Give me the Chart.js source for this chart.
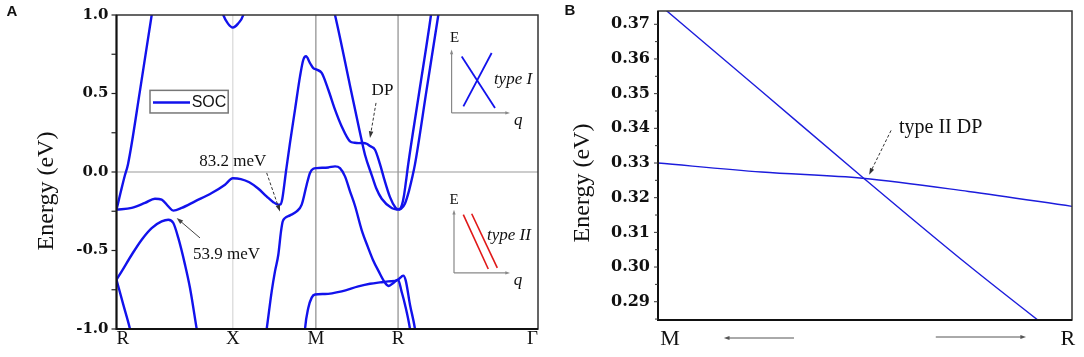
<!DOCTYPE html>
<html>
<head>
<meta charset="utf-8">
<script src="https://cdn.jsdelivr.net/npm/chart.js@4.4.0/dist/chart.umd.min.js"></script>
<style>
  body { margin: 0; background: #fff; }
  #wrap { position: relative; width: 1084px; height: 357px; }
  canvas { position: absolute; top: 0; }
  #bandChart { left: 0; }
  #zoomChart { left: 560px; }
</style>
</head>
<body>
<div id="wrap">
  <canvas id="bandChart" width="560" height="357"></canvas>
  <canvas id="zoomChart" width="524" height="357"></canvas>
</div>
<script>
// ---- panel A: band structure along R-X-M-R-Γ (path coordinate 0..100) ----
const kTicks = [0, 27.6, 47.3, 66.8, 100];
const kLabels = ["R", "X", "M", "R", "Γ"];
const energyTicksA = [-1.0, -0.5, 0.0, 0.5, 1.0];

const band1K = [0, 0.36, 1.07, 1.9, 2.73, 5.58, 8.35, 8.66];
const band1E = [-0.24, -0.2, -0.12, -0.03, 0.05, 0.52, 1.0, 1.05];

const band2K = [0, 3.61, 6.76, 9.13, 10.72, 12.29, 13.48, 15.47, 18.62, 22.59, 25.74, 27.6, 29.5, 31.5, 33.6, 35.6, 37.2, 38.4, 38.9, 39.34, 39.81, 40.21, 41.16, 42.35, 43.54, 44.32, 44.96, 45.91, 46.69, 47.5, 48.68, 50.25, 51.84, 53.43, 55.4, 56.5, 57.5, 58.55, 59.36, 60.14, 61.33, 62.51, 63.46, 64.89, 66.2, 66.8];
const band2E = [-0.24, -0.229, -0.197, -0.17, -0.176, -0.219, -0.246, -0.229, -0.187, -0.134, -0.081, -0.04, -0.045, -0.065, -0.105, -0.155, -0.192, -0.208, -0.206, -0.17, -0.08, 0.004, 0.185, 0.397, 0.609, 0.715, 0.737, 0.694, 0.662, 0.652, 0.631, 0.524, 0.397, 0.29, 0.195, 0.186, 0.184, 0.185, 0.18, 0.165, 0.142, 0.05, -0.04, -0.16, -0.228, -0.24];

const band3K = [51.36, 51.84, 55.4, 57.77, 58.95, 60.55, 61.57, 62.92, 65.29, 66.8];
const band3E = [1.05, 1.0, 0.55, 0.25, 0.11, -0.02, -0.1, -0.17, -0.229, -0.24];

const band4K = [66.8, 67.26, 67.73, 68.21, 68.68, 69.16, 71.77, 74.61, 74.85];
const band4E = [-0.24, -0.235, -0.21, -0.15, -0.06, 0.04, 0.5, 1.0, 1.05];

const band5K = [66.8, 67.5, 68.45, 69.39, 70.11, 70.82, 73.55, 76.35, 76.63];
const band5E = [-0.24, -0.235, -0.2, -0.12, -0.04, 0.05, 0.52, 1.0, 1.05];

const band6K = [24.79, 25.34, 26.45, 27.6, 28.83, 30.08, 30.49];
const band6E = [1.05, 1.0, 0.945, 0.92, 0.945, 1.0, 1.05];

const band7K = [0, 1.23, 3.61, 5.98, 8.35, 10.72, 12.29, 13.48, 14.66, 16.25, 17.44, 19.03, 19.34];
const band7E = [-0.686, -0.633, -0.527, -0.431, -0.357, -0.315, -0.304, -0.325, -0.42, -0.59, -0.739, -1.0, -1.05];

const band8K = [0, 1.61, 3.2, 3.44];
const band8E = [-0.686, -0.845, -1.0, -1.03];

const band9K = [35.35, 35.63, 36.82, 37.6, 38.39, 39.03, 39.43, 39.98, 41.16, 42.75, 43.94, 45.12, 45.91, 46.69, 47.5, 50.25, 51.84, 53.02, 54.21, 55.4, 56.58, 58.17, 59.67, 60.85, 62.15, 63.7, 64.6, 65.67, 66.8, 67.62, 68.45, 69.63, 69.87];
const band9E = [-1.05, -1.0, -0.76, -0.633, -0.527, -0.378, -0.315, -0.293, -0.276, -0.251, -0.208, -0.081, -0.006, 0.021, 0.025, 0.029, 0.036, 0.025, -0.028, -0.123, -0.215, -0.37, -0.48, -0.56, -0.63, -0.705, -0.726, -0.707, -0.686, -0.76, -0.845, -1.0, -1.05];

const band10K = [44.6, 44.72, 45.5, 46.31, 47.09, 49.47, 53.43, 57.37, 60.14, 62.51, 64.48, 66.8, 67.66, 68.04, 68.61, 69.63, 70.82, 71.06];
const band10E = [-1.05, -1.0, -0.866, -0.8, -0.78, -0.777, -0.76, -0.729, -0.712, -0.703, -0.697, -0.686, -0.665, -0.66, -0.69, -0.845, -1.0, -1.05];

// ---- panel B: zoom on the type II crossing between M and R ----
const pathB = [0, 0.25, 0.494, 0.75, 1];
const steepBandE = [0.376, 0.3507, 0.3259, 0.3005, 0.277];
const flatBandE = [0.33, 0.3274, 0.3256, 0.3218, 0.3175];
const energyTicksB = [0.29, 0.30, 0.31, 0.32, 0.33, 0.34, 0.35, 0.36, 0.37];

const BLUE = "#1212ec";
const SERIF = '"Liberation Serif", serif';
const TICKFONT = '"DejaVu Serif", serif';

const zip = (ks, es) => ks.map((k, i) => ({ x: k, y: es[i] }));

function txt(ctx, s, x, y, font, align, color) {
  ctx.save();
  ctx.font = font;
  ctx.fillStyle = color || "#111";
  ctx.textAlign = align || "center";
  ctx.textBaseline = "middle";
  ctx.fillText(s, x, y);
  ctx.restore();
}

function arrow(ctx, x1, y1, x2, y2, color, width, dash, head) {
  const h = head || 7;
  const a = Math.atan2(y2 - y1, x2 - x1);
  ctx.save();
  ctx.strokeStyle = color;
  ctx.fillStyle = color;
  ctx.lineWidth = width || 1;
  if (dash) ctx.setLineDash(dash);
  ctx.beginPath();
  ctx.moveTo(x1, y1);
  ctx.lineTo(x2 - h * 0.8 * Math.cos(a), y2 - h * 0.8 * Math.sin(a));
  ctx.stroke();
  ctx.setLineDash([]);
  ctx.beginPath();
  ctx.moveTo(x2, y2);
  ctx.lineTo(x2 - h * Math.cos(a - 0.33), y2 - h * Math.sin(a - 0.33));
  ctx.lineTo(x2 - h * Math.cos(a + 0.33), y2 - h * Math.sin(a + 0.33));
  ctx.closePath();
  ctx.fill();
  ctx.restore();
}

function line(ctx, x1, y1, x2, y2, color, width) {
  ctx.save();
  ctx.strokeStyle = color;
  ctx.lineWidth = width;
  ctx.beginPath();
  ctx.moveTo(x1, y1);
  ctx.lineTo(x2, y2);
  ctx.stroke();
  ctx.restore();
}

function frame(ctx, a) {
  ctx.save();
  ctx.strokeStyle = "#333";
  ctx.lineWidth = 1.5;
  ctx.strokeRect(a.left, a.top, a.right - a.left, a.bottom - a.top);
  ctx.strokeStyle = "#111";
  ctx.lineWidth = 2;
  ctx.beginPath();
  ctx.moveTo(a.left, a.top);
  ctx.lineTo(a.left, a.bottom);
  ctx.lineTo(a.right, a.bottom);
  ctx.stroke();
  ctx.restore();
}

const bandPlugin = {
  id: "bandDecor",
  beforeDatasetsDraw(chart) {
    const { ctx, chartArea: a, scales: { x: xs, y: ys } } = chart;
    // high-symmetry verticals and Fermi level
    line(ctx, xs.getPixelForValue(kTicks[1]), a.top, xs.getPixelForValue(kTicks[1]), a.bottom, "#cfcfcf", 1);
    line(ctx, xs.getPixelForValue(kTicks[2]), a.top, xs.getPixelForValue(kTicks[2]), a.bottom, "#8c8c8c", 1.2);
    line(ctx, xs.getPixelForValue(kTicks[3]), a.top, xs.getPixelForValue(kTicks[3]), a.bottom, "#8c8c8c", 1.2);
    line(ctx, a.left, ys.getPixelForValue(0), a.right, ys.getPixelForValue(0), "#9a9a9a", 1.2);
  },
  afterDatasetsDraw(chart) {
    const { ctx, chartArea: a, scales: { x: xs, y: ys } } = chart;
    const X = v => xs.getPixelForValue(v);
    const Y = v => ys.getPixelForValue(v);
    frame(ctx, a);

    // y ticks (minor every 0.25)
    for (let v = -1; v <= 1.001; v += 0.25) {
      line(ctx, a.left - 5, Y(v), a.left, Y(v), "#222", 1.2);
    }
    energyTicksA.forEach(v => txt(ctx, v.toFixed(1), a.left - 8, Y(v), "bold 15px " + TICKFONT, "right"));
    kTicks.forEach((k, i) => {
      const align = i === 0 ? "left" : (i === kTicks.length - 1 ? "right" : "center");
      txt(ctx, kLabels[i], X(k), a.bottom + 10, "19px " + SERIF, align);
    });

    ctx.save();
    ctx.translate(47, 191);
    ctx.rotate(-Math.PI / 2);
    txt(ctx, "Energy (eV)", 0, 0, "24px " + SERIF, "center");
    ctx.restore();

    txt(ctx, "A", 12, 12, "bold 15px \"Liberation Sans\", sans-serif", "center");

    // legend
    ctx.save();
    ctx.strokeStyle = "#777";
    ctx.lineWidth = 1.5;
    ctx.strokeRect(X(7.95), Y(0.52), X(26.5) - X(7.95), Y(0.376) - Y(0.52));
    ctx.restore();
    line(ctx, X(8.66), Y(0.443), X(17.44), Y(0.443), BLUE, 2.5);
    txt(ctx, "SOC", X(17.84), Y(0.443), "16px \"Liberation Sans\", sans-serif", "left");

    // gap annotations
    txt(ctx, "83.2 meV", X(27.6), Y(0.066), "17px " + SERIF, "center");
    arrow(ctx, X(35.63), Y(-0.006), X(38.79), Y(-0.251), "#333", 1, [3, 2], 7);
    txt(ctx, "53.9 meV", X(18.15), Y(-0.527), "17px " + SERIF, "left");
    arrow(ctx, X(19.81), Y(-0.42), X(14.28), Y(-0.293), "#444", 1, null, 7);
    txt(ctx, "DP", X(63.1), Y(0.518), "17px " + SERIF, "center");
    arrow(ctx, X(61.57), Y(0.44), X(60.14), Y(0.217), "#333", 1, [3, 2], 7);

    // inset: type I
    arrow(ctx, X(79.5), Y(0.376), X(79.5), Y(0.78), "#888", 1.2, null, 5);
    arrow(ctx, X(79.5), Y(0.376), X(93.36), Y(0.376), "#888", 1.2, null, 5);
    txt(ctx, "E", X(80.2), Y(0.85), "15px " + SERIF, "center");
    txt(ctx, "q", X(95.3), Y(0.33), "italic 17px " + SERIF, "center");
    line(ctx, X(81.9), Y(0.736), X(89.8), Y(0.408), BLUE, 1.8);
    line(ctx, X(89.0), Y(0.758), X(82.3), Y(0.418), BLUE, 1.8);
    txt(ctx, "type I", X(94.07), Y(0.588), "italic 17px " + SERIF, "center");

    // inset: type II
    arrow(ctx, X(80.07), Y(-0.643), X(80.07), Y(-0.24), "#888", 1.2, null, 5);
    arrow(ctx, X(80.07), Y(-0.643), X(93.36), Y(-0.643), "#888", 1.2, null, 5);
    txt(ctx, "E", X(80.07), Y(-0.177), "15px " + SERIF, "center");
    txt(ctx, "q", X(95.25), Y(-0.69), "italic 17px " + SERIF, "center");
    line(ctx, X(82.28), Y(-0.272), X(88.2), Y(-0.618), "#e01818", 1.6);
    line(ctx, X(84.27), Y(-0.266), X(90.34), Y(-0.611), "#e01818", 1.6);
    txt(ctx, "type II", X(93.1), Y(-0.406), "italic 17px " + SERIF, "center");
  }
};

const bands = [
  [band1K, band1E], [band2K, band2E], [band3K, band3E], [band4K, band4E], [band5K, band5E],
  [band6K, band6E], [band7K, band7E], [band8K, band8E], [band9K, band9E], [band10K, band10E]
];

new Chart(document.getElementById("bandChart"), {
  type: "line",
  data: {
    datasets: bands.map(([ks, es], i) => ({
      label: "band" + (i + 1),
      data: zip(ks, es),
      borderColor: BLUE,
      borderWidth: 2.4,
      pointRadius: 0,
      fill: false,
      cubicInterpolationMode: "monotone"
    }))
  },
  options: {
    responsive: false,
    animation: false,
    layout: { padding: { left: 116.5, right: 22, top: 15, bottom: 28 } },
    scales: {
      x: { type: "linear", min: 0, max: 100, display: false },
      y: { type: "linear", min: -1, max: 1, display: false }
    },
    plugins: { legend: { display: false }, tooltip: { enabled: false } }
  },
  plugins: [bandPlugin]
});

const zoomPlugin = {
  id: "zoomDecor",
  afterDatasetsDraw(chart) {
    const { ctx, chartArea: a, scales: { x: xs, y: ys } } = chart;
    const X = v => xs.getPixelForValue(v);
    const Y = v => ys.getPixelForValue(v);
    frame(ctx, a);

    for (let v = 0.285; v <= 0.3735; v += 0.005) {
      const major = Math.abs(Math.round(v * 100) - v * 100) < 1e-6;
      line(ctx, a.left - (major ? 4 : 3), Y(v), a.left, Y(v), "#333", 1);
    }
    energyTicksB.forEach(v => txt(ctx, v.toFixed(2), a.left - 8, Y(v), "bold 16px " + TICKFONT, "right"));

    ctx.save();
    ctx.translate(23, 183);
    ctx.rotate(-Math.PI / 2);
    txt(ctx, "Energy (eV)", 0, 0, "24px " + SERIF, "center");
    ctx.restore();

    txt(ctx, "B", 10, 11, "bold 15px \"Liberation Sans\", sans-serif", "center");

    txt(ctx, "M", X(0.029), a.bottom + 19, "22px " + SERIF, "center");
    txt(ctx, "R", X(0.99), a.bottom + 19, "22px " + SERIF, "center");
    arrow(ctx, X(0.3285), a.bottom + 18, X(0.159), a.bottom + 18, "#555", 1, null, 6);
    arrow(ctx, X(0.671), a.bottom + 17, X(0.889), a.bottom + 17, "#555", 1, null, 6);

    txt(ctx, "type II DP", X(0.582), Y(0.3401), "20px " + SERIF, "left");
    arrow(ctx, X(0.563), Y(0.3394), X(0.51), Y(0.3266), "#333", 1, [3, 2], 7);
  }
};

new Chart(document.getElementById("zoomChart"), {
  type: "line",
  data: {
    datasets: [
      { label: "steep", data: zip(pathB, steepBandE) },
      { label: "flat", data: zip(pathB, flatBandE) }
    ].map(d => Object.assign(d, {
      borderColor: "#1c1cdc",
      borderWidth: 1.4,
      pointRadius: 0,
      fill: false,
      cubicInterpolationMode: "monotone"
    }))
  },
  options: {
    responsive: false,
    animation: false,
    layout: { padding: { left: 98, right: 12, top: 11, bottom: 37 } },
    scales: {
      x: { type: "linear", min: 0, max: 1, display: false },
      y: { type: "linear", min: 0.28473, max: 0.37383, display: false }
    },
    plugins: { legend: { display: false }, tooltip: { enabled: false } }
  },
  plugins: [zoomPlugin]
});
</script>
</body>
</html>
